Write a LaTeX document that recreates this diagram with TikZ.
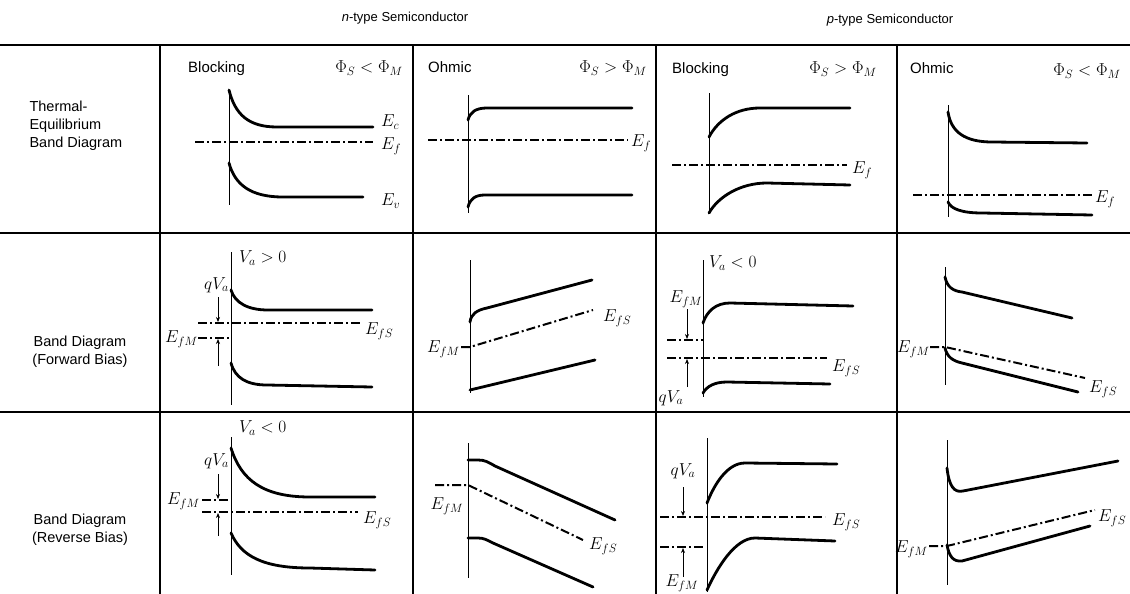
\documentclass[tikz,border=0pt]{standalone}
\usepackage{fontspec}
\setmainfont{Liberation Sans}
\usetikzlibrary{arrows.meta}

\begin{document}
\begin{tikzpicture}[
  x=1pt, y=-1pt,
  grid/.style={line width=2pt},
  band/.style={line width=2.8pt, line cap=round},
  fermi/.style={line width=2pt, dash pattern=on 9pt off 3pt on 2pt off 3pt},
  iface/.style={line width=0.8pt},
  elab/.style={font=\fontsize{17.28}{20}\selectfont, inner sep=1pt},
  head/.style={font=\fontsize{15}{18}\selectfont, anchor=base west, inner sep=0pt},
  rowlab/.style={font=\fontsize{14.5}{18}\selectfont},
  arr/.style={-{Stealth[length=5pt,width=4pt]}, line width=0.7pt}
]
  \useasboundingbox (0,0) rectangle (1130,594);

  % Table frame
  \draw[grid, line width=2.6pt] (0,45) -- (1130,45);
  \draw[grid] (0,233) -- (1130,233);
  \draw[grid] (0,412) -- (1130,412);
  \foreach \x in {160,413,656,897}
    \draw[grid] (\x,45) -- (\x,594);

  % Column titles
  \node[font=\fontsize{13}{16}\selectfont] (ntype) at (405,18) {\textit{n}-type Semiconductor};
  \node[font=\fontsize{13}{16}\selectfont] (ptype) at (890,20) {\textit{p}-type Semiconductor};

  % Row titles
  \node[rowlab, anchor=west, align=left] (teq) at (26,126) {Thermal-\\Equilibrium\\Band Diagram};
  \node[rowlab, align=center] (fwd) at (80,352) {Band Diagram\\(Forward Bias)};
  \node[rowlab, align=center] (rev) at (80,530) {Band Diagram\\(Reverse Bias)};

  % Cell headings
  \node[head] (blkn) at (188,73) {Blocking};
  \node[elab, anchor=base east] (phin1) at (404,73) {$\Phi_S<\Phi_M$};
  \node[head] (ohmn) at (428,73) {Ohmic};
  \node[elab, anchor=base east] (phin2) at (648,73) {$\Phi_S>\Phi_M$};
  \node[head] (blkp) at (672,74) {Blocking};
  \node[elab, anchor=base east] (phip1) at (878,74) {$\Phi_S>\Phi_M$};
  \node[head] (ohmp) at (910,74) {Ohmic};
  \node[elab, anchor=base east] (phip2) at (1122,76) {$\Phi_S<\Phi_M$};

  % Thermal equilibrium, n blocking
  \draw[iface] (229,90) -- (229,205);
  \draw[band] (229,90) .. controls (235,114) and (248,127) .. (277,127) -- (373,127);
  \draw[fermi] (195,142) -- (373,142);
  \draw[band] (229,163) .. controls (235,185) and (251,197) .. (283,197) -- (363,197);
  \node[elab, anchor=west] (ecn) at (380,122) {$E_c$};
  \node[elab, anchor=west] (efn) at (380,146) {$E_f$};
  \node[elab, anchor=west] (evn) at (380,201) {$E_v$};

  % Thermal equilibrium, n ohmic
  \draw[iface] (468,95) -- (468,213);
  \draw[band] (468,120) .. controls (470,112) and (476,108) .. (487,108) -- (632,108);
  \draw[fermi] (428,140) -- (628,140);
  \draw[band] (468,207) .. controls (470,199) and (475,195) .. (485,195) -- (632,195);
  \node[elab, anchor=west] (efn2) at (630,143) {$E_f$};

  % Thermal equilibrium, p blocking
  \draw[iface] (709,93) -- (709,213);
  \draw[band] (709,137) .. controls (718,120) and (736,108) .. (760,108) -- (850,108);
  \draw[fermi] (672,165) -- (847,165);
  \draw[band] (709,213) .. controls (718,197) and (740,183) .. (767,183) -- (850,185);
  \node[elab, anchor=west] (efp) at (851,170) {$E_f$};

  % Thermal equilibrium, p ohmic
  \draw[iface] (948,105) -- (948,217);
  \draw[band] (948,112) .. controls (951,132) and (965,142) .. (992,142) -- (1087,143);
  \draw[fermi] (913,195) -- (1092,195);
  \draw[band] (948,202) .. controls (951,209) and (962,213) .. (982,213) -- (1092,215);
  \node[elab, anchor=west] (efp2) at (1094,199) {$E_f$};

  % Forward bias, n blocking
  \draw[iface] (231,252) -- (231,405);
  \draw[band] (231,290) .. controls (235,303) and (248,310) .. (268,310) -- (372,310);
  \draw[fermi] (198,323) -- (360,323);
  \draw[fermi] (198,338) -- (231,338);
  \draw[band] (231,363) .. controls (235,378) and (247,385) .. (267,385) -- (372,387);
  \node[elab, anchor=west] (va1) at (238,258) {$V_a>0$};
  \node[elab, anchor=east] (qva1) at (230,285) {$qV_a$};
  \node[elab, anchor=east] (efm1) at (199,339) {$E_{fM}$};
  \node[elab, anchor=west] (efs1) at (364,331) {$E_{fS}$};
  \coordinate (s1) at (218,322);
  \coordinate (m1) at (218,339);
  \coordinate (a1) at (218,297);
  \coordinate (b1) at (218,366);
  \draw[arr] (a1) -- (s1);
  \draw[arr] (b1) -- (m1);

  % Forward bias, n ohmic
  \draw[iface] (470,260) -- (470,393);
  \draw[band] (470,322) .. controls (471,314) and (477,310) .. (487,308) -- (592,280);
  \draw[fermi] (461,347) -- (470,347) -- (593,310);
  \draw[band] (470,390) -- (595,360);
  \node[elab, anchor=east] (efm2) at (461,349) {$E_{fM}$};
  \node[elab, anchor=west] (efs2) at (602,318) {$E_{fS}$};

  % Forward bias, p blocking
  \draw[iface] (703,260) -- (703,397);
  \draw[band] (703,323) .. controls (707,311) and (716,303) .. (730,303) -- (853,306);
  \draw[fermi] (667,340) -- (703,340);
  \draw[fermi] (667,358) -- (827,358);
  \draw[band] (703,393) .. controls (707,386) and (715,382) .. (727,382) -- (830,384);
  \node[elab, anchor=west] (va2) at (708,263) {$V_a<0$};
  \node[elab] (efm3) at (686,299) {$E_{fM}$};
  \node[elab, anchor=west] (efs3) at (831,368) {$E_{fS}$};
  \node[elab] (qva2) at (671,398) {$qV_a$};
  \coordinate (m3) at (687,339);
  \coordinate (s3) at (687,359);
  \coordinate (a3) at (687,309);
  \coordinate (b3) at (687,387);
  \draw[arr] (a3) -- (m3);
  \draw[arr] (b3) -- (s3);

  % Forward bias, p ohmic
  \draw[iface] (945,267) -- (945,385);
  \draw[band] (945,277) .. controls (947,287) and (953,291) .. (962,292) -- (1072,318);
  \draw[fermi] (930,347) -- (945,347) -- (1085,378);
  \draw[band] (945,348) .. controls (947,357) and (953,361) .. (962,363) -- (1078,392);
  \node[elab, anchor=east] (efm4) at (931,349) {$E_{fM}$};
  \node[elab, anchor=west] (efs4) at (1088,389) {$E_{fS}$};

  % Reverse bias, n blocking
  \draw[iface] (231,437) -- (231,575);
  \draw[band] (231,448) .. controls (241,480) and (263,497) .. (310,497) -- (375,497);
  \draw[fermi] (202,500) -- (231,500);
  \draw[fermi] (202,512) -- (358,512);
  \draw[band] (231,533) .. controls (241,556) and (263,568) .. (310,568) -- (375,570);
  \node[elab, anchor=west] (va3) at (238,428) {$V_a<0$};
  \node[elab, anchor=east] (qva3) at (230,461) {$qV_a$};
  \node[elab, anchor=east] (efm5) at (201,501) {$E_{fM}$};
  \node[elab, anchor=west] (efs5) at (362,520) {$E_{fS}$};
  \coordinate (m5) at (218,499);
  \coordinate (s5) at (218,513);
  \coordinate (a5) at (218,474);
  \coordinate (b5) at (218,536);
  \draw[arr] (a5) -- (m5);
  \draw[arr] (b5) -- (s5);

  % Reverse bias, n ohmic
  \draw[iface] (468,443) -- (468,578);
  \draw[band] (468,460) -- (478,460) .. controls (485,460) and (488,462) .. (495,466) -- (615,520);
  \draw[fermi] (435,485) -- (468,485) -- (583,540);
  \draw[band] (468,538) -- (478,538) .. controls (484,538) and (487,540) .. (493,543) -- (593,587);
  \node[elab] (efm6) at (447,506) {$E_{fM}$};
  \node[elab, anchor=west] (efs6) at (588,546) {$E_{fS}$};

  % Reverse bias, p blocking
  \draw[iface] (707,438) -- (707,592);
  \draw[band] (707,503) .. controls (714,485) and (727,463) .. (745,463) -- (837,464);
  \draw[fermi] (660,517) -- (825,517);
  \draw[fermi] (660,547) -- (705,547);
  \draw[band] (707,590) .. controls (717,568) and (735,538) .. (755,538) -- (835,541);
  \node[elab] (qva4) at (683,471) {$qV_a$};
  \node[elab, anchor=west] (efs7) at (831,522) {$E_{fS}$};
  \node[elab] (efm7) at (682,583) {$E_{fM}$};
  \coordinate (s7) at (683,516);
  \coordinate (m7) at (683,548);
  \coordinate (a7) at (683,487);
  \coordinate (b7) at (683,577);
  \draw[arr] (a7) -- (s7);
  \draw[arr] (b7) -- (m7);

  % Reverse bias, p ohmic
  \draw[iface] (947,440) -- (947,585);
  \draw[band] (947,468) .. controls (949,486) and (954,493) .. (963,491) -- (1118,461);
  \draw[fermi] (929,546) -- (947,546) -- (1095,510);
  \draw[band] (947,545) .. controls (949,556) and (953,562) .. (962,561) -- (1090,526);
  \node[elab, anchor=east] (efm8) at (929,549) {$E_{fM}$};
  \node[elab, anchor=west] (efs8) at (1097,518) {$E_{fS}$};
\end{tikzpicture}
\end{document}
